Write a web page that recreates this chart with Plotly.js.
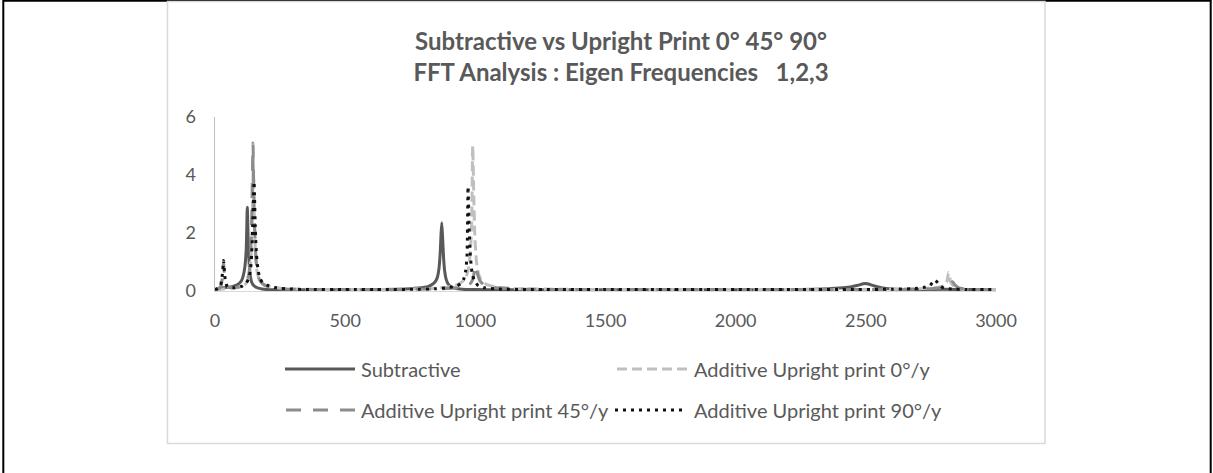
<!DOCTYPE html>
<html>
<head>
<meta charset="utf-8">
<script src="https://cdn.plot.ly/plotly-3.0.1.min.js"></script>
<style>
  html, body { margin: 0; padding: 0; background: #ffffff; }
  #chart { width: 1213px; height: 473px; }
</style>
</head>
<body>
<div id="chart"></div>
<script>
// Frequency (Hz) / amplitude pairs for each FFT spectrum
const subtractiveFreq = [0,10,20,30,40,50,60,70,80,90,100,105,110,115,120,124,128,132,136,140,145,150,160,170,180,200,225,250,300,400,500,600,700,750,800,820,840,850,855,860,865,868,871,874,878,882,888,895,905,920,950,1000,1100,1200,1500,2000,2200,2300,2400,2440,2470,2490,2500,2510,2530,2560,2600,2700,2800,2900,3000];
const subtractiveAmp  = [0.05,0.08,0.1,0.11,0.12,0.13,0.14,0.16,0.19,0.24,0.33,0.42,0.58,0.85,1.45,2.89,1.6,0.85,0.5,0.33,0.23,0.18,0.12,0.09,0.07,0.05,0.04,0.04,0.04,0.04,0.04,0.05,0.06,0.08,0.12,0.16,0.26,0.38,0.5,0.75,1.3,1.9,2.35,1.9,1.15,0.7,0.4,0.25,0.16,0.1,0.06,0.05,0.04,0.04,0.04,0.04,0.05,0.06,0.1,0.14,0.2,0.25,0.26,0.24,0.18,0.11,0.07,0.05,0.06,0.05,0.04];

const up0Freq = [0,20,40,60,80,100,115,125,132,138,142,145,147,149,152,156,162,170,180,200,230,260,300,400,500,600,700,800,850,900,930,950,965,975,982,986,990,994,998,1004,1012,1025,1045,1080,1150,1300,1600,2000,2400,2600,2700,2750,2780,2800,2810,2818,2826,2840,2860,2900,3000];
const up0Amp  = [0.05,0.06,0.08,0.09,0.11,0.15,0.22,0.35,0.6,1.1,2.0,3.4,4.6,3.6,2.2,1.2,0.65,0.4,0.28,0.18,0.12,0.09,0.07,0.05,0.05,0.05,0.06,0.08,0.1,0.15,0.22,0.32,0.5,0.85,1.5,2.4,5.0,3.3,1.9,1.05,0.6,0.35,0.22,0.14,0.09,0.06,0.05,0.05,0.05,0.06,0.08,0.1,0.13,0.18,0.28,0.64,0.3,0.15,0.08,0.05,0.05];

const up45Freq = [0,10,20,26,30,33,36,40,46,55,70,90,105,118,128,134,139,142,144,146,148,151,155,160,168,180,200,230,270,350,500,700,850,920,960,980,990,996,1002,1008,1018,1035,1070,1150,1400,2000,2500,2700,2780,2810,2825,2833,2841,2855,2880,2950,3000];
const up45Amp  = [0.05,0.07,0.12,0.3,0.65,1.0,0.6,0.3,0.17,0.13,0.12,0.14,0.18,0.28,0.5,0.9,1.8,3.0,4.2,5.1,4.0,2.6,1.5,0.85,0.45,0.27,0.16,0.1,0.07,0.05,0.05,0.05,0.07,0.1,0.16,0.25,0.4,0.65,0.9,0.6,0.35,0.2,0.12,0.07,0.05,0.05,0.05,0.06,0.1,0.16,0.24,0.32,0.22,0.12,0.07,0.05,0.05];

const up90Freq = [0,10,20,26,30,33,36,40,46,55,70,90,105,118,128,136,141,145,148,150,152,155,159,165,172,182,200,230,270,350,500,650,780,850,900,930,945,955,963,968,972,976,981,988,998,1012,1035,1080,1200,1500,2000,2400,2600,2680,2720,2745,2765,2785,2800,2830,2880,3000];
const up90Amp  = [0.05,0.08,0.15,0.4,0.75,1.05,0.7,0.35,0.17,0.12,0.11,0.13,0.17,0.25,0.4,0.7,1.3,2.3,3.3,3.77,3.2,2.1,1.3,0.75,0.45,0.3,0.2,0.12,0.08,0.05,0.05,0.05,0.06,0.08,0.12,0.18,0.26,0.4,0.7,1.2,3.6,2.2,1.2,0.6,0.32,0.18,0.11,0.07,0.05,0.05,0.05,0.05,0.06,0.08,0.12,0.18,0.38,0.18,0.1,0.07,0.05,0.05];

const seriesNames = ["Subtractive", "Additive Upright print 0°/y", "Additive Upright print 45°/y", "Additive Upright print 90°/y"];
const xTicks = [0, 500, 1000, 1500, 2000, 2500, 3000];
const yTicks = [0, 2, 4, 6];

const FONT = "Lato, 'Open Sans', sans-serif";
const TEXT = "#595959";

const styles = [
  {color: "#595959", dash: "solid", width: 3},
  {color: "#bfbfbf", dash: "10px,5px", width: 3},
  {color: "#8c8c8c", dash: "15px,12px", width: 3},
  {color: "#111111", dash: "3px,5px", width: 3}
];

const xs = [subtractiveFreq, up0Freq, up45Freq, up90Freq];
const ys = [subtractiveAmp, up0Amp, up45Amp, up90Amp];

const traces = xs.map((x, i) => ({
  type: "scatter",
  mode: "lines",
  x: x,
  y: ys[i],
  name: seriesNames[i],
  line: {color: styles[i].color, dash: styles[i].dash, width: styles[i].width, shape: "spline", smoothing: 0.6},
  showlegend: false,
  hoverinfo: "x+y+name"
}));

// Page geometry
const W = 1213, H = 473;
const M = {l: 215, r: 217, t: 117, b: 182};
const PW = W - M.l - M.r, PH = H - M.t - M.b;
const px = v => (v - M.l) / PW;          // pixel x -> paper x
const py = v => (H - M.b - v) / PH;      // pixel y -> paper y

const shapes = [
  // outer frame
  {type: "rect", xref: "paper", yref: "paper", x0: px(3.3), x1: px(1210.7), y0: py(490), y1: py(0.8),
   line: {color: "#000000", width: 2}, fillcolor: "rgba(0,0,0,0)", layer: "below"},
  // chart area border
  {type: "rect", xref: "paper", yref: "paper", x0: px(167.5), x1: px(1045), y0: py(443.5), y1: py(1.5),
   line: {color: "#d9d9d9", width: 1.5}, fillcolor: "rgba(0,0,0,0)", layer: "below"}
];

// Legend: two columns, two rows
const legendPos = [
  {x0: 285, x1: 355, y: 369, tx: 359},
  {x0: 617, x1: 688, y: 369, tx: 692},
  {x0: 286, x1: 355, y: 410, tx: 359},
  {x0: 615, x1: 686, y: 410, tx: 692}
];
const annotations = [];
legendPos.forEach((p, i) => {
  shapes.push({type: "line", xref: "paper", yref: "paper", x0: px(p.x0), x1: px(p.x1), y0: py(p.y), y1: py(p.y),
    line: {color: styles[i].color, dash: styles[i].dash, width: styles[i].width}});
  annotations.push({xref: "paper", yref: "paper", x: px(p.tx), y: py(p.y), xanchor: "left", yanchor: "middle",
    text: seriesNames[i], showarrow: false, font: {family: FONT, size: 20, color: TEXT}});
});

const layout = {
  width: W, height: H,
  margin: M,
  paper_bgcolor: "#ffffff",
  plot_bgcolor: "#ffffff",
  title: {
    text: "<b>Subtractive vs Upright Print 0° 45° 90°</b><br><b>FFT Analysis : Eigen Frequencies \u00a0 1,2,3</b>",
    font: {family: FONT, size: 24, color: TEXT},
    x: 621 / W, xref: "container", xanchor: "center",
    y: 1 - 50 / H, yref: "container", yanchor: "top"
  },
  xaxis: {
    range: [0, 3000], tickvals: xTicks, ticktext: xTicks.map(String),
    showgrid: false, zeroline: false, showline: true, linecolor: "#d9d9d9", linewidth: 1,
    layer: "below traces", ticks: "", ticklabelstandoff: 13,
    tickfont: {family: FONT, size: 18, color: TEXT}, fixedrange: true
  },
  yaxis: {
    range: [0, 6], tickvals: yTicks, ticktext: yTicks.map(String),
    showgrid: false, zeroline: false, showline: true, linecolor: "#bfbfbf", linewidth: 1.5,
    layer: "below traces", ticks: "", ticklabelstandoff: 14,
    tickfont: {family: FONT, size: 18, color: TEXT}, fixedrange: true
  },
  shapes: shapes,
  annotations: annotations,
  showlegend: false
};

Plotly.newPlot("chart", traces, layout, {displayModeBar: false, staticPlot: true});
</script>
</body>
</html>
